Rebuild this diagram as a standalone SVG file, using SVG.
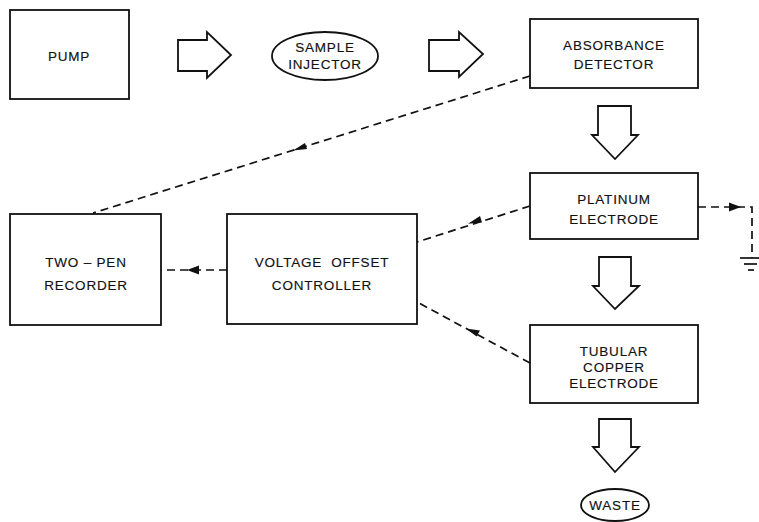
<svg xmlns="http://www.w3.org/2000/svg" width="759" height="522" viewBox="0 0 759 522">
<defs>
<style>
.box{fill:none;stroke:#111;stroke-width:1.8}
.flow{fill:#fff;stroke:#111;stroke-width:1.8;stroke-linejoin:miter}
.dash{fill:none;stroke:#111;stroke-width:1.7;stroke-dasharray:8 5}
.solid{fill:none;stroke:#111;stroke-width:1.7}
.ah{fill:#111;stroke:none}
text{font-family:"Liberation Sans",Arial,sans-serif;font-size:13.5px;letter-spacing:0.8px;fill:#111;stroke:#111;stroke-width:0.15;text-anchor:middle;white-space:pre}
</style>
</defs>
<rect width="759" height="522" fill="#fff"/>

<g id="pump"><rect class="box" x="10" y="10" width="119" height="89"/><text x="69" y="61">PUMP</text></g>
<g id="sample-injector"><ellipse class="box" cx="325" cy="56" rx="53" ry="24"/><text x="325" y="52">SAMPLE</text><text x="325" y="69">INJECTOR</text></g>
<g id="absorbance-detector"><rect class="box" x="530" y="19" width="168" height="69"/><text x="614" y="50">ABSORBANCE</text><text x="614" y="69">DETECTOR</text></g>
<g id="platinum-electrode"><rect class="box" x="530" y="173" width="168" height="66"/><text x="614" y="204">PLATINUM</text><text x="614" y="224">ELECTRODE</text></g>
<g id="tubular-copper-electrode"><rect class="box" x="530" y="325" width="168" height="78"/><text x="614" y="356">TUBULAR</text><text x="614" y="372">COPPER</text><text x="614" y="388">ELECTRODE</text></g>
<g id="waste"><ellipse class="box" cx="615" cy="505" rx="34" ry="16"/><text x="615" y="510">WASTE</text></g>
<g id="two-pen-recorder"><rect class="box" x="10" y="214" width="151" height="111"/><text x="86" y="267">TWO – PEN</text><text x="86" y="290">RECORDER</text></g>
<g id="voltage-offset-controller"><rect class="box" x="227" y="214" width="190" height="110"/><text x="322" y="267" xml:space="preserve">VOLTAGE  OFFSET</text><text x="322" y="290">CONTROLLER</text></g>
<g id="ground"><line class="solid" x1="740" y1="258" x2="759" y2="258"/><line class="solid" x1="744" y1="264" x2="757" y2="264"/><line class="solid" x1="748" y1="270" x2="754" y2="270"/></g>

<g id="connectors">
<path class="flow" d="M178,40 H207 V32 L231,55 L207,78 V71 H178 Z"/>
<path class="flow" d="M429,40 H459 V32 L483,54 L459,77 V71 H429 Z"/>
<path class="flow" d="M598,106 H631 V135 H638 L615,159 L592,135 H598 Z"/>
<path class="flow" d="M599,257 H631 V286 H639 L615,309 L593,286 H599 Z"/>
<path class="flow" d="M599,419 H631 V447 H639 L615,472 L593,447 H599 Z"/>

<line class="dash" x1="530" y1="76" x2="93" y2="213"/>
<path class="ah" d="M293,150.6 L305,143 L307,149 Z"/>
<line class="dash" x1="227" y1="270" x2="161" y2="270"/>
<path class="ah" d="M187,270 L199,265.5 L199,274.5 Z"/>
<line class="dash" x1="530" y1="206" x2="417" y2="242"/>
<path class="ah" d="M468,223.7 L480,216 L482,222.5 Z"/>
<line class="dash" x1="530" y1="363" x2="417" y2="302"/>
<path class="ah" d="M466,328.5 L480,330.5 L476.5,336.5 Z"/>
<path class="dash" d="M698,207 H752 V258"/>
<path class="ah" d="M741,207 L729,202.5 L729,211.5 Z"/>
</g>
</svg>
